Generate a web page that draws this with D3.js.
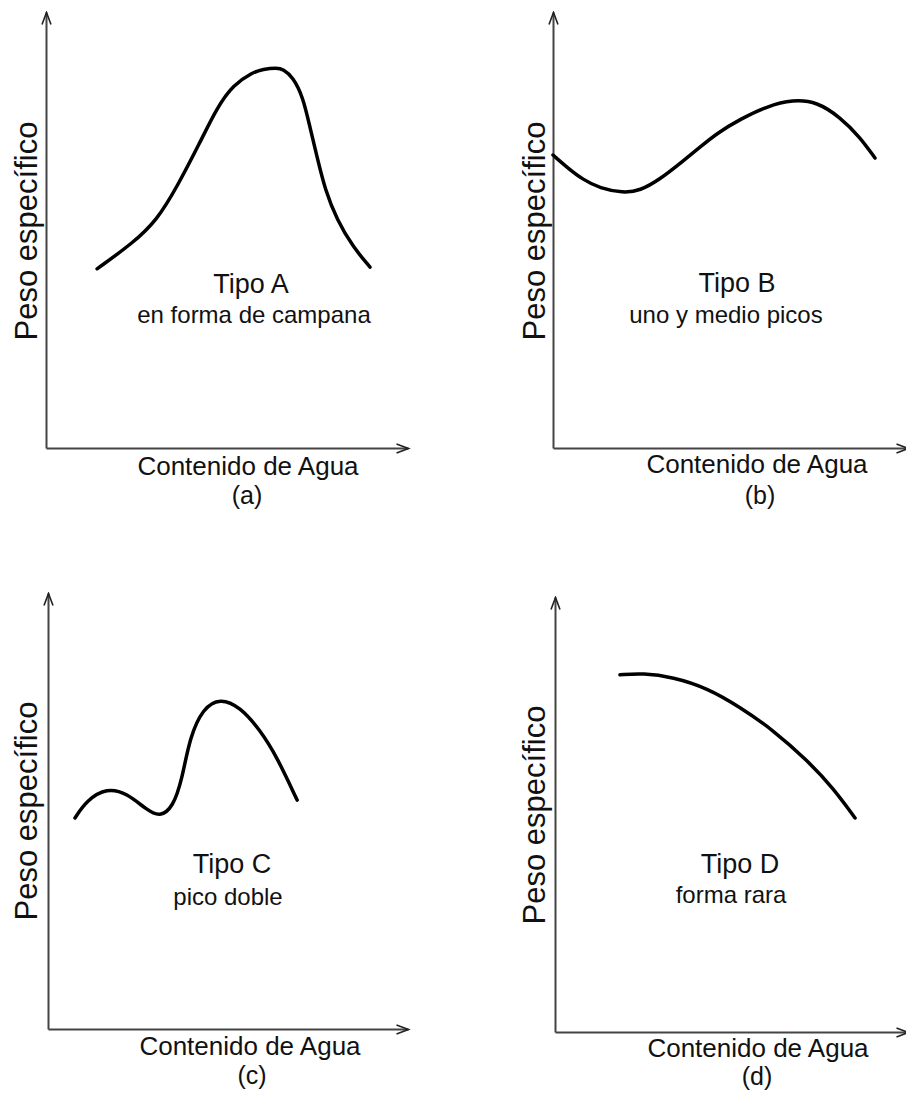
<!DOCTYPE html>
<html>
<head>
<meta charset="utf-8">
<script src="https://cdn.jsdelivr.net/npm/d3@7"></script>
<style>
  body { margin: 0; background: #fff; }
  text { font-family: "Liberation Sans", Arial, sans-serif; fill: #111; }
</style>
</head>
<body>
<div id="chart"></div>
<script>
// curve data: [contenido de agua, peso especifico] on a 0-100 scale
var curveA = [[14.1,41.1],[24.0,47.0],[30.7,52.3],[36.2,59.9],[42.5,70.0],[47.2,78.0],[51.7,83.3],
              [57.2,86.2],[59.9,86.9],[63.8,87.2],[65.5,86.9],[68.2,85.1],[71.0,80.5],[72.9,73.6],
              [74.9,66.7],[77.1,59.2],[80.4,52.3],[84.8,46.1],[89.5,41.5]];
var curveB = [[0,67.2],[3.9,64.4],[8.5,61.5],[13.2,59.6],[19.7,58.5],[24.5,59.0],[30.1,61.6],
              [36.6,65.8],[41.4,69.0],[46.2,72.2],[52.7,75.4],[60.3,78.4],[67.6,79.9],[74.4,79.4],
              [80.8,75.9],[86.5,71.3],[90.7,66.5]];
var curveC = [[7.5,48.4],[10.8,52.5],[16.4,55.3],[21.9,54.1],[27.5,50.2],[31.1,48.6],[34.7,50.9],
              [37.2,57.1],[39.4,67.0],[43.1,73.6],[47.8,75.9],[53.3,73.9],[58.9,68.6],[63.6,62.4],
              [69.2,52.5]];
var curveD = [[18.4,82.1],[24.9,82.5],[33.4,81.6],[43.1,79.1],[52.4,74.7],[61.8,69.4],[71.4,62.5],
              [78.8,56.1],[85.0,49.2]];

var titles = ["Tipo A", "Tipo B", "Tipo C", "Tipo D"];
var subtitles = ["en forma de campana", "uno y medio picos", "pico doble", "forma rara"];
var letters = ["(a)", "(b)", "(c)", "(d)"];
var xLabel = "Contenido de Agua";
var yLabel = "Peso específico";

// panel placement (origin, arrow tips) and label offsets from origin
var layout = [
  {ox: 46,  oy: 448,  tipX: 408, tipY: 12,  t: [205,-155], s: [208,-125], xl: [202,27], l: [201,56], yl: [-9,-217]},
  {ox: 553, oy: 448,  tipX: 908, tipY: 12,  t: [184,-156], s: [173,-125], xl: [204,25], l: [207,56], yl: [-8,-217]},
  {ox: 48,  oy: 1029, tipX: 408, tipY: 593, t: [184,-156], s: [180,-124], xl: [202,26], l: [204,55], yl: [-11,-218]},
  {ox: 555, oy: 1032, tipX: 908, tipY: 597, t: [185,-159], s: [176,-129], xl: [203,25], l: [202,53], yl: [-10,-217]}
];
var curves = [curveA, curveB, curveC, curveD];

var svg = d3.select("#chart").append("svg")
    .attr("width", 906)
    .attr("height", 1094);

svg.append("defs").append("marker")
    .attr("id", "arrow")
    .attr("markerUnits", "userSpaceOnUse")
    .attr("viewBox", "-14 -7 16 14")
    .attr("markerWidth", 16)
    .attr("markerHeight", 14)
    .attr("refX", 0)
    .attr("refY", 0)
    .attr("orient", "auto")
    .append("path")
    .attr("d", "M-12,-4.5L0,0L-12,4.5")
    .attr("fill", "none")
    .attr("stroke", "#222")
    .attr("stroke-width", 1.6);

layout.forEach(function (p, i) {
    var x = d3.scaleLinear().domain([0, 100]).range([p.ox, p.tipX]);
    var y = d3.scaleLinear().domain([0, 100]).range([p.oy, p.tipY]);

    var xAxis = svg.append("g")
        .attr("transform", "translate(0," + p.oy + ")")
        .call(d3.axisBottom(x).tickValues([]).tickSizeOuter(0));
    var yAxis = svg.append("g")
        .attr("transform", "translate(" + p.ox + ",0)")
        .call(d3.axisLeft(y).tickValues([]).tickSizeOuter(0));
    [xAxis, yAxis].forEach(function (a) {
        a.select(".domain")
            .attr("stroke", "#444")
            .attr("stroke-width", 2)
            .attr("marker-end", "url(#arrow)");
    });

    var line = d3.line()
        .x(function (d) { return x(d[0]); })
        .y(function (d) { return y(d[1]); })
        .curve(d3.curveBasis);

    svg.append("path")
        .datum(curves[i])
        .attr("d", line)
        .attr("fill", "none")
        .attr("stroke", "#000")
        .attr("stroke-width", 3.5)
        .attr("stroke-linecap", "round")
        .attr("stroke-linejoin", "round");

    svg.append("text")
        .attr("x", p.ox + p.t[0]).attr("y", p.oy + p.t[1])
        .attr("text-anchor", "middle")
        .style("font-size", "27px")
        .text(titles[i]);

    svg.append("text")
        .attr("x", p.ox + p.s[0]).attr("y", p.oy + p.s[1])
        .attr("text-anchor", "middle")
        .style("font-size", "24px")
        .text(subtitles[i]);

    svg.append("text")
        .attr("x", p.ox + p.xl[0]).attr("y", p.oy + p.xl[1])
        .attr("text-anchor", "middle")
        .style("font-size", "26px")
        .text(xLabel);

    svg.append("text")
        .attr("x", p.ox + p.l[0]).attr("y", p.oy + p.l[1])
        .attr("text-anchor", "middle")
        .style("font-size", "25px")
        .text(letters[i]);

    svg.append("text")
        .attr("transform", "translate(" + (p.ox + p.yl[0]) + "," + (p.oy + p.yl[1]) + ") rotate(-90)")
        .attr("text-anchor", "middle")
        .style("font-size", "31px")
        .text(yLabel);
});
</script>
</body>
</html>
